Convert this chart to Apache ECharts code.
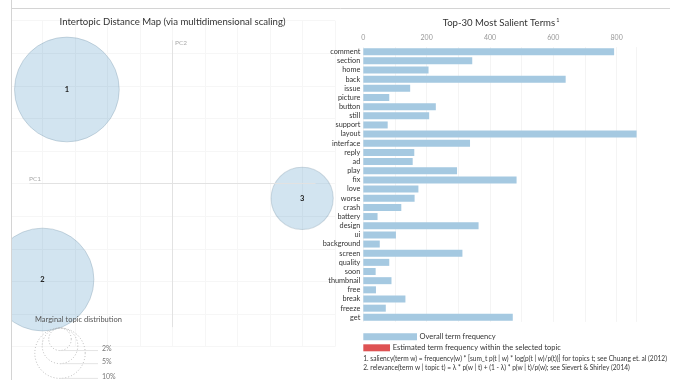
<!DOCTYPE html>
<html>
<head>
<meta charset="utf-8">
<script src="https://cdn.jsdelivr.net/npm/echarts@6/dist/echarts.min.js"></script>
<style>
  html, body { margin: 0; padding: 0; background: #fff; }
  #wrap { position: relative; width: 677px; height: 380px; }
  #chart { width: 677px; height: 380px; }
  /* panel border; hides whatever spills left of it */
  #mask { position: absolute; left: 0; top: 0; width: 11px; height: 380px; background: #fff;
          border-right: 1px solid #d4d4d4; z-index: 5; }
</style>
</head>
<body>
<div id="wrap">
  <div id="chart"></div>
  <div id="mask"></div>
</div>
<script>
// topics on the intertopic distance map (PC units) and their marginal share (%)
const topicIds = ['1', '2', '3'];
const topicX = [-3.25, -4.0, 3.99];
const topicY = [2.89, -2.94, -0.45];
const topicShare = [43.2, 41.6, 15.2];
const legendShares = [2, 5, 10];

// top-30 most salient terms and overall frequency
const terms = ['comment', 'section', 'home', 'back', 'issue', 'picture', 'button', 'still', 'support', 'layout',
  'interface', 'reply', 'ad', 'play', 'fix', 'love', 'worse', 'crash', 'battery', 'design',
  'ui', 'background', 'screen', 'quality', 'soon', 'thumbnail', 'free', 'break', 'freeze', 'get'];
const termFreq = [792, 344, 206, 639, 148, 82, 229, 208, 77, 863,
  337, 161, 156, 296, 484, 174, 162, 120, 45, 364,
  103, 52, 313, 82, 39, 89, 40, 133, 71, 472];
const freqTicks = [0, 200, 400, 600, 800];

const FONT = 'Lato';
const radiusOf = p => 25.2 * Math.sqrt(p / 10);
const font = size => size + 'px "' + FONT + '"';

let chart = echarts.init(document.getElementById('chart'), null, {renderer: 'canvas'});

// marginal topic distribution legend (dotted circles, top aligned)
const legCx = 60, legTop = 328;
let legendGraphics = [];
legendShares.forEach(p => {
  let r = radiusOf(p);
  legendGraphics.push({
    type: 'circle', z: 100,
    shape: {cx: legCx, cy: legTop + r, r: r},
    style: {fill: 'none', stroke: '#aaa', lineWidth: 0.8, lineDash: [1, 2]}
  });
  legendGraphics.push({
    type: 'line', z: 100,
    shape: {x1: legCx, y1: legTop + 2 * r, x2: 98, y2: legTop + 2 * r},
    style: {stroke: '#ddd', lineWidth: 0.8}
  });
  legendGraphics.push({
    type: 'text', z: 100, x: 102, y: legTop + 2 * r - 2,
    style: {text: p + '%', fill: '#777', font: font(7), textVerticalAlign: 'middle'}
  });
});

let option = {
  animation: false,
  textStyle: {fontFamily: FONT},
  title: [{
    text: 'Intertopic Distance Map (via multidimensional scaling)',
    left: 172.5, top: 17, textAlign: 'center', padding: 0,
    textStyle: {fontSize: 9.6, fontWeight: 'normal', color: '#333', fontFamily: FONT}
  }, {
    text: '{t|Top-30 Most Salient Terms}{s|1}',
    left: 501, top: 17, textAlign: 'center', padding: 0,
    textStyle: {
      fontFamily: FONT, fontWeight: 'normal',
      rich: {
        t: {fontSize: 9.6, color: '#333', fontFamily: FONT, fontWeight: 'normal'},
        s: {fontSize: 5.5, color: '#333', fontFamily: FONT, fontWeight: 'normal', padding: [0, 0, 6, 1]}
      }
    }
  }],
  grid: [
    {left: 10, top: 20.7, width: 325, height: 326},
    {left: 363.3, top: 47.1, width: 273.3, height: 274.8}
  ],
  xAxis: [{
    gridIndex: 0, type: 'value', min: -5, max: 5, interval: 1,
    axisLine: {show: false}, axisTick: {show: false}, axisLabel: {show: false},
    splitLine: {lineStyle: {color: '#f6f6f6', width: 1}}
  }, {
    gridIndex: 1, type: 'value', position: 'top', min: 0, max: 863, interval: 100,
    axisLine: {show: false}, axisTick: {show: false},
    axisLabel: {
      color: '#999', fontSize: 7, margin: 6, showMaxLabel: false,
      formatter: v => freqTicks.indexOf(v) >= 0 ? String(v) : ''
    },
    splitLine: {lineStyle: {color: '#f4f4f4', width: 1}}
  }],
  yAxis: [{
    gridIndex: 0, type: 'value', min: -5, max: 5, interval: 1,
    axisLine: {show: false}, axisTick: {show: false}, axisLabel: {show: false},
    splitLine: {lineStyle: {color: '#f6f6f6', width: 1}}
  }, {
    gridIndex: 1, type: 'category', data: terms, inverse: true,
    axisLine: {show: false}, axisTick: {show: false},
    axisLabel: {color: '#333', fontSize: 7.3, margin: 3, interval: 0}
  }],
  series: [{
    type: 'scatter', xAxisIndex: 0, yAxisIndex: 0,
    data: topicIds.map((id, i) => ({name: id, value: [topicX[i], topicY[i], topicShare[i]]})),
    symbolSize: v => 2 * radiusOf(v[2]),
    itemStyle: {color: 'rgba(31,119,180,0.2)', borderColor: 'rgba(110,140,160,0.3)', borderWidth: 1, opacity: 1},
    label: {show: true, position: 'inside', formatter: p => p.name, color: '#222', fontWeight: 'bold', fontSize: 7.5},
    markLine: {
      silent: true, symbol: 'none', animation: false,
      lineStyle: {color: '#e2e2e2', width: 1, type: 'solid'},
      label: {show: false},
      data: [
        [{coord: [-4.4, 0]}, {coord: [4.4, 0]}],
        [{coord: [0, -4.4]}, {coord: [0, 4.4]}]
      ]
    }
  }, {
    type: 'bar', xAxisIndex: 1, yAxisIndex: 1,
    data: termFreq, barWidth: 7,
    itemStyle: {color: '#a5c9e1'}
  }],
  graphic: [
    {type: 'line', z: 100, shape: {x1: 11.5, y1: 8.5, x2: 670, y2: 8.5}, style: {stroke: '#d4d4d4', lineWidth: 1}},
    {type: 'text', z: 100, x: 175, y: 43, style: {text: 'PC2', fill: '#aaa', font: font(6.5), textVerticalAlign: 'middle'}},
    {type: 'text', z: 100, x: 29, y: 179, style: {text: 'PC1', fill: '#aaa', font: font(6.5), textVerticalAlign: 'middle'}},
    {type: 'text', z: 100, x: 35, y: 320, style: {text: 'Marginal topic distribution', fill: '#555', font: font(7.5), textVerticalAlign: 'middle'}},
    ...legendGraphics,
    // term frequency legend + footnotes
    {type: 'rect', z: 100, shape: {x: 363.3, y: 333.3, width: 53.7, height: 7}, style: {fill: '#a5c9e1'}},
    {type: 'text', z: 100, x: 419.5, y: 337, style: {text: 'Overall term frequency', fill: '#333', font: font(7.5), textVerticalAlign: 'middle'}},
    {type: 'rect', z: 100, shape: {x: 363.3, y: 344.3, width: 26.7, height: 7}, style: {fill: '#de5253'}},
    {type: 'text', z: 100, x: 392.7, y: 348, style: {text: 'Estimated term frequency within the selected topic', fill: '#333', font: font(7.5), textVerticalAlign: 'middle'}},
    {type: 'text', z: 100, x: 363.3, y: 359, style: {text: '1. saliency(term w) = frequency(w) * [sum_t p(t | w) * log(p(t | w)/p(t))] for topics t; see Chuang et. al (2012)', fill: '#333', font: font(6.6), textVerticalAlign: 'middle'}},
    {type: 'text', z: 100, x: 363.3, y: 368, style: {text: '2. relevance(term w | topic t) = \u03bb * p(w | t) + (1 - \u03bb) * p(w | t)/p(w); see Sievert & Shirley (2014)', fill: '#333', font: font(6.6), textVerticalAlign: 'middle'}}
  ]
};

chart.setOption(option);
</script>
</body>
</html>
